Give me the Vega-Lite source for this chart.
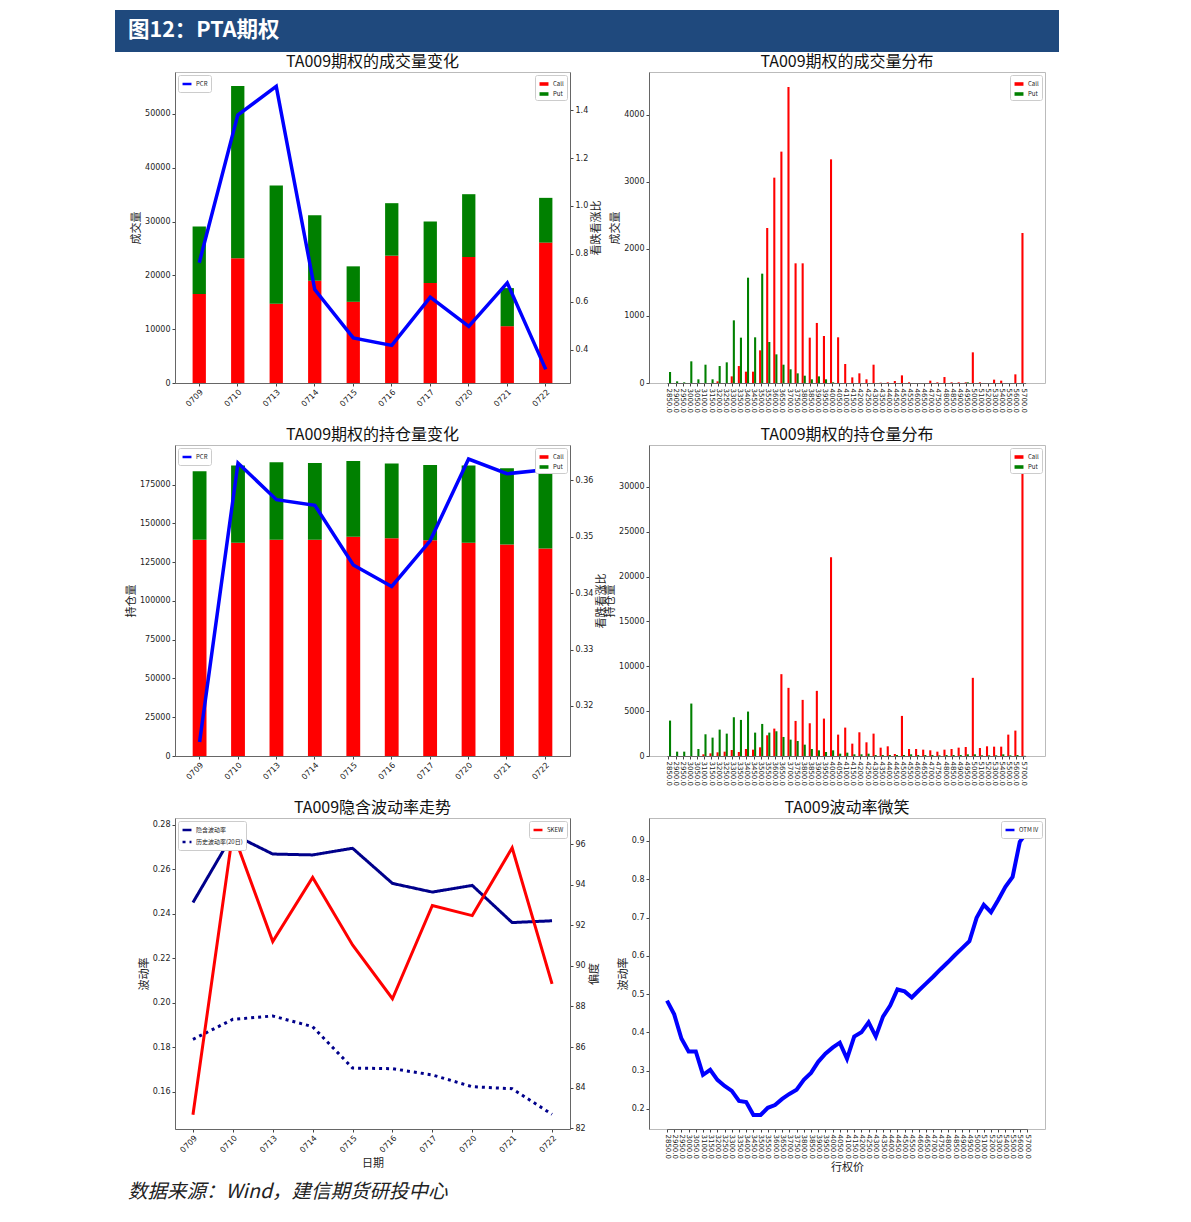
{
  "$schema": "https://vega.github.io/schema/vega-lite/v6.json",
  "padding": {"left": 115, "top": 10, "right": 5, "bottom": 5},
  "background": "white",
  "bounds": "flush",
  "columns": 4,
  "spacing": {"row": 20, "column": 0},
  "resolve": {
    "scale": {"color": "independent", "stroke": "independent", "strokeDash": "independent"},
    "legend": {"color": "independent", "stroke": "independent", "strokeDash": "independent"}
  },
  "datasets": {
    "vol_daily": [
      {"date": "0709", "Call": 16520, "Put": 12550, "PCR": 0.763},
      {"date": "0710", "Call": 23170, "Put": 32050, "PCR": 1.379},
      {"date": "0713", "Call": 14720, "Put": 21990, "PCR": 1.499},
      {"date": "0714", "Call": 19010, "Put": 12170, "PCR": 0.651},
      {"date": "0715", "Call": 15090, "Put": 6590, "PCR": 0.449},
      {"date": "0716", "Call": 23660, "Put": 9760, "PCR": 0.418},
      {"date": "0717", "Call": 18570, "Put": 11430, "PCR": 0.619},
      {"date": "0720", "Call": 23420, "Put": 11670, "PCR": 0.497},
      {"date": "0721", "Call": 10560, "Put": 7080, "PCR": 0.679},
      {"date": "0722", "Call": 26090, "Put": 8320, "PCR": 0.318}
    ],
    "oi_daily": [
      {"date": "0709", "Call": 139340, "Put": 44260, "PCR": 0.3136},
      {"date": "0710", "Call": 137410, "Put": 49810, "PCR": 0.3631},
      {"date": "0713", "Call": 139340, "Put": 50030, "PCR": 0.3566},
      {"date": "0714", "Call": 139340, "Put": 49600, "PCR": 0.3556},
      {"date": "0715", "Call": 141270, "Put": 48960, "PCR": 0.345},
      {"date": "0716", "Call": 140410, "Put": 48100, "PCR": 0.3412},
      {"date": "0717", "Call": 139130, "Put": 48520, "PCR": 0.3493},
      {"date": "0720", "Call": 137410, "Put": 49810, "PCR": 0.3638},
      {"date": "0721", "Call": 136330, "Put": 49170, "PCR": 0.3612},
      {"date": "0722", "Call": 133760, "Put": 48520, "PCR": 0.3619}
    ],
    "trend": [
      {"date": "0709", "隐含波动率": 0.245, "历史波动率(20日)": 0.1835, "SKEW": 82.66},
      {"date": "0710", "隐含波动率": 0.2757, "历史波动率(20日)": 0.1925, "SKEW": 96.59},
      {"date": "0713", "隐含波动率": 0.2668, "历史波动率(20日)": 0.194, "SKEW": 91.2},
      {"date": "0714", "隐含波动率": 0.2664, "历史波动率(20日)": 0.1892, "SKEW": 94.36},
      {"date": "0715", "隐含波动率": 0.2694, "历史波动率(20日)": 0.1706, "SKEW": 91.03},
      {"date": "0716", "隐含波动率": 0.2536, "历史波动率(20日)": 0.1703, "SKEW": 88.38},
      {"date": "0717", "隐含波动率": 0.2497, "历史波动率(20日)": 0.1675, "SKEW": 92.98},
      {"date": "0720", "隐含波动率": 0.2527, "历史波动率(20日)": 0.1622, "SKEW": 92.48},
      {"date": "0721", "隐含波动率": 0.236, "历史波动率(20日)": 0.1613, "SKEW": 95.82},
      {"date": "0722", "隐含波动率": 0.2368, "历史波动率(20日)": 0.1498, "SKEW": 89.11}
    ],
    "vol_strike": [
      {"strike": 2850, "Call": 0, "Put": 164}, {"strike": 2900, "Call": 0, "Put": 25},
      {"strike": 2950, "Call": 0, "Put": 10}, {"strike": 3000, "Call": 0, "Put": 323},
      {"strike": 3050, "Call": 0, "Put": 55}, {"strike": 3100, "Call": 0, "Put": 273},
      {"strike": 3150, "Call": 0, "Put": 55}, {"strike": 3200, "Call": 25, "Put": 253},
      {"strike": 3250, "Call": 0, "Put": 308}, {"strike": 3300, "Call": 99, "Put": 934},
      {"strike": 3350, "Call": 253, "Put": 676}, {"strike": 3400, "Call": 169, "Put": 1570},
      {"strike": 3450, "Call": 169, "Put": 681}, {"strike": 3500, "Call": 487, "Put": 1630},
      {"strike": 3550, "Call": 2311, "Put": 611}, {"strike": 3600, "Call": 3061, "Put": 427},
      {"strike": 3650, "Call": 3449, "Put": 273}, {"strike": 3700, "Call": 4413, "Put": 204},
      {"strike": 3750, "Call": 1784, "Put": 144}, {"strike": 3800, "Call": 1784, "Put": 109},
      {"strike": 3850, "Call": 676, "Put": 55}, {"strike": 3900, "Call": 895, "Put": 99},
      {"strike": 3950, "Call": 701, "Put": 55}, {"strike": 4000, "Call": 3334, "Put": 10},
      {"strike": 4050, "Call": 681, "Put": 0}, {"strike": 4100, "Call": 283, "Put": 0},
      {"strike": 4150, "Call": 84, "Put": 0}, {"strike": 4200, "Call": 144, "Put": 0},
      {"strike": 4250, "Call": 55, "Put": 0}, {"strike": 4300, "Call": 273, "Put": 0},
      {"strike": 4350, "Call": 5, "Put": 0}, {"strike": 4400, "Call": 10, "Put": 0},
      {"strike": 4450, "Call": 30, "Put": 0}, {"strike": 4500, "Call": 114, "Put": 0},
      {"strike": 4550, "Call": 10, "Put": 0}, {"strike": 4600, "Call": 0, "Put": 0},
      {"strike": 4650, "Call": 0, "Put": 0}, {"strike": 4700, "Call": 35, "Put": 0},
      {"strike": 4750, "Call": 10, "Put": 0}, {"strike": 4800, "Call": 89, "Put": 0},
      {"strike": 4850, "Call": 10, "Put": 0}, {"strike": 4900, "Call": 10, "Put": 0},
      {"strike": 4950, "Call": 10, "Put": 10}, {"strike": 5000, "Call": 457, "Put": 0},
      {"strike": 5100, "Call": 10, "Put": 0}, {"strike": 5200, "Call": 0, "Put": 0},
      {"strike": 5300, "Call": 50, "Put": 0}, {"strike": 5400, "Call": 35, "Put": 0},
      {"strike": 5500, "Call": 0, "Put": 0}, {"strike": 5600, "Call": 129, "Put": 0},
      {"strike": 5700, "Call": 2236, "Put": 0}
    ],
    "oi_strike": [
      {"strike": 2850, "Call": 0, "Put": 3946}, {"strike": 2900, "Call": 0, "Put": 484},
      {"strike": 2950, "Call": 0, "Put": 484}, {"strike": 3000, "Call": 0, "Put": 5845},
      {"strike": 3050, "Call": 0, "Put": 782}, {"strike": 3100, "Call": 186, "Put": 2420},
      {"strike": 3150, "Call": 298, "Put": 2048}, {"strike": 3200, "Call": 410, "Put": 2941},
      {"strike": 3250, "Call": 484, "Put": 2494}, {"strike": 3300, "Call": 670, "Put": 4319},
      {"strike": 3350, "Call": 447, "Put": 4021}, {"strike": 3400, "Call": 782, "Put": 4952},
      {"strike": 3450, "Call": 707, "Put": 2606}, {"strike": 3500, "Call": 968, "Put": 3574},
      {"strike": 3550, "Call": 2308, "Put": 2606}, {"strike": 3600, "Call": 3053, "Put": 2755},
      {"strike": 3650, "Call": 9121, "Put": 2122}, {"strike": 3700, "Call": 7595, "Put": 1824},
      {"strike": 3750, "Call": 3909, "Put": 1675}, {"strike": 3800, "Call": 6255, "Put": 1266},
      {"strike": 3850, "Call": 3649, "Put": 782}, {"strike": 3900, "Call": 7260, "Put": 633},
      {"strike": 3950, "Call": 4170, "Put": 447}, {"strike": 4000, "Call": 22152, "Put": 633},
      {"strike": 4050, "Call": 2383, "Put": 261}, {"strike": 4100, "Call": 3165, "Put": 372},
      {"strike": 4150, "Call": 1378, "Put": 186}, {"strike": 4200, "Call": 2643, "Put": 186},
      {"strike": 4250, "Call": 1526, "Put": 261}, {"strike": 4300, "Call": 2494, "Put": 112},
      {"strike": 4350, "Call": 931, "Put": 112}, {"strike": 4400, "Call": 1080, "Put": 112},
      {"strike": 4450, "Call": 223, "Put": 112}, {"strike": 4500, "Call": 4468, "Put": 112},
      {"strike": 4550, "Call": 782, "Put": 186}, {"strike": 4600, "Call": 782, "Put": 112},
      {"strike": 4650, "Call": 707, "Put": 112}, {"strike": 4700, "Call": 633, "Put": 112},
      {"strike": 4750, "Call": 484, "Put": 75}, {"strike": 4800, "Call": 707, "Put": 112},
      {"strike": 4850, "Call": 782, "Put": 112}, {"strike": 4900, "Call": 931, "Put": 112},
      {"strike": 4950, "Call": 1005, "Put": 186}, {"strike": 5000, "Call": 8712, "Put": 186},
      {"strike": 5100, "Call": 894, "Put": 75}, {"strike": 5200, "Call": 1080, "Put": 75},
      {"strike": 5300, "Call": 1042, "Put": 75}, {"strike": 5400, "Call": 1042, "Put": 186},
      {"strike": 5500, "Call": 2383, "Put": 75}, {"strike": 5600, "Call": 2830, "Put": 112},
      {"strike": 5700, "Call": 33000, "Put": 20}
    ],
    "smile": [
      {"strike": 2850, "OTM IV": 0.483}, {"strike": 2900, "OTM IV": 0.447},
      {"strike": 2950, "OTM IV": 0.384}, {"strike": 3000, "OTM IV": 0.35},
      {"strike": 3050, "OTM IV": 0.35}, {"strike": 3100, "OTM IV": 0.289},
      {"strike": 3150, "OTM IV": 0.302}, {"strike": 3200, "OTM IV": 0.276},
      {"strike": 3250, "OTM IV": 0.26}, {"strike": 3300, "OTM IV": 0.247},
      {"strike": 3350, "OTM IV": 0.221}, {"strike": 3400, "OTM IV": 0.218},
      {"strike": 3450, "OTM IV": 0.184}, {"strike": 3500, "OTM IV": 0.184},
      {"strike": 3550, "OTM IV": 0.203}, {"strike": 3600, "OTM IV": 0.21},
      {"strike": 3650, "OTM IV": 0.226}, {"strike": 3700, "OTM IV": 0.239},
      {"strike": 3750, "OTM IV": 0.25}, {"strike": 3800, "OTM IV": 0.276},
      {"strike": 3850, "OTM IV": 0.294}, {"strike": 3900, "OTM IV": 0.323},
      {"strike": 3950, "OTM IV": 0.344}, {"strike": 4000, "OTM IV": 0.36},
      {"strike": 4050, "OTM IV": 0.373}, {"strike": 4100, "OTM IV": 0.331},
      {"strike": 4150, "OTM IV": 0.389}, {"strike": 4200, "OTM IV": 0.4},
      {"strike": 4250, "OTM IV": 0.426}, {"strike": 4300, "OTM IV": 0.389},
      {"strike": 4350, "OTM IV": 0.441}, {"strike": 4400, "OTM IV": 0.47},
      {"strike": 4450, "OTM IV": 0.512}, {"strike": 4500, "OTM IV": 0.507},
      {"strike": 4550, "OTM IV": 0.491}, {"strike": 4600, "OTM IV": 0.51},
      {"strike": 4650, "OTM IV": 0.528}, {"strike": 4700, "OTM IV": 0.546},
      {"strike": 4750, "OTM IV": 0.565}, {"strike": 4800, "OTM IV": 0.583},
      {"strike": 4850, "OTM IV": 0.602}, {"strike": 4900, "OTM IV": 0.62},
      {"strike": 4950, "OTM IV": 0.638}, {"strike": 5000, "OTM IV": 0.699},
      {"strike": 5100, "OTM IV": 0.733}, {"strike": 5200, "OTM IV": 0.714},
      {"strike": 5300, "OTM IV": 0.746}, {"strike": 5400, "OTM IV": 0.78},
      {"strike": 5500, "OTM IV": 0.806}, {"strike": 5600, "OTM IV": 0.898},
      {"strike": 5700, "OTM IV": 0.923}
    ]
  },
  "concat": [
    {"width": 60, "height": 42, "view": {"fill": "#1f497d", "stroke": null}, "data": {"values": []}, "mark": "point"},
    {
      "width": 395,
      "height": 42,
      "view": {"fill": "#1f497d", "stroke": null},
      "data": {"values": [{"label": "图12：PTA期权"}]},
      "mark": {"type": "text", "align": "left", "baseline": "middle", "dx": -47, "fontSize": 21.5, "fontWeight": "bold", "color": "#ffffff", "font": "Noto Sans CJK SC"},
      "encoding": {
        "text": {"field": "label"},
        "x": {"datum": 0, "type": "quantitative", "scale": {"domain": [0, 1]}, "axis": null},
        "y": {"datum": 0.5, "type": "quantitative", "scale": {"domain": [0, 1]}, "axis": null}
      }
    },
    {"width": 79, "height": 42, "view": {"fill": "#1f497d", "stroke": null}, "data": {"values": []}, "mark": "point"},
    {"width": 410, "height": 42, "view": {"fill": "#1f497d", "stroke": null}, "data": {"values": []}, "mark": "point"},

    {"width": 60, "height": 353, "view": {"stroke": null}, "data": {"values": []}, "mark": "point"},
    {
      "width": 395,
      "height": 311,
      "view": {"stroke": "#bbbbbb"},
      "title": {"text": "TA009期权的成交量变化"},
      "data": {"name": "vol_daily"},
      "layer": [
        {
          "transform": [{"fold": ["Call", "Put"], "as": ["type", "value"]}],
          "mark": {"type": "bar"},
          "encoding": {
            "x": {"field": "date", "type": "ordinal", "scale": {"paddingInner": 0.6545, "paddingOuter": 0.457}, "axis": {"title": null, "labelAngle": -45}},
            "y": {"field": "value", "type": "quantitative", "scale": {"domain": [0, 57800], "nice": false}, "axis": {"title": "成交量", "values": [0, 10000, 20000, 30000, 40000, 50000], "format": "d"}},
            "color": {"field": "type", "type": "nominal", "scale": {"domain": ["Call", "Put"], "range": ["#ff0000", "#008000"]}, "legend": {"orient": "top-right", "title": null, "symbolType": "M-1,-0.4H1V0.4H-1Z"}},
            "order": {"field": "type", "type": "nominal", "sort": "ascending"}
          }
        },
        {
          "transform": [{"fold": ["PCR"], "as": ["series", "pcr"]}],
          "mark": {"type": "line", "strokeWidth": 3.5},
          "encoding": {
            "x": {"field": "date", "type": "ordinal"},
            "y": {"field": "pcr", "type": "quantitative", "scale": {"domain": [0.261, 1.559], "nice": false, "zero": false}, "axis": {"orient": "right", "title": "看跌看涨比", "titleAngle": 270, "titleBaseline": "top", "values": [0.4, 0.6, 0.8, 1.0, 1.2, 1.4], "format": ".1f"}},
            "stroke": {"field": "series", "type": "nominal", "scale": {"domain": ["PCR"], "range": ["#0000ff"]}, "legend": {"orient": "top-left", "title": null}}
          }
        }
      ],
      "resolve": {"scale": {"y": "independent"}}
    },
    {"width": 79, "height": 1, "view": {"stroke": null}, "data": {"values": []}, "mark": "point"},
    {
      "width": 396,
      "height": 311,
      "view": {"stroke": "#bbbbbb"},
      "title": {"text": "TA009期权的成交量分布"},
      "data": {"name": "vol_strike"},
      "transform": [{"fold": ["Call", "Put"], "as": ["type", "value"]}],
      "mark": {"type": "bar"},
      "encoding": {
        "x": {"field": "strike", "type": "ordinal", "scale": {"range": [17.9, 376.6], "paddingInner": 0.41, "paddingOuter": 0}, "axis": {"title": null, "labelAngle": 90, "labelFontSize": 7, "labelOverlap": false, "labelExpr": "datum.label + '.0'"}},
        "xOffset": {"field": "type", "type": "nominal", "scale": {"domain": ["Call", "Put"]}},
        "y": {"field": "value", "type": "quantitative", "stack": null, "scale": {"domain": [0, 4636], "nice": false}, "axis": {"title": "成交量", "values": [0, 1000, 2000, 3000, 4000], "format": "d"}},
        "color": {"field": "type", "type": "nominal", "scale": {"domain": ["Call", "Put"], "range": ["#ff0000", "#008000"]}, "legend": {"orient": "top-right", "title": null, "symbolType": "M-1,-0.4H1V0.4H-1Z"}}
      }
    },

    {"width": 60, "height": 353, "view": {"stroke": null}, "data": {"values": []}, "mark": "point"},
    {
      "width": 395,
      "height": 311,
      "view": {"stroke": "#bbbbbb"},
      "title": {"text": "TA009期权的持仓量变化"},
      "data": {"name": "oi_daily"},
      "layer": [
        {
          "transform": [{"fold": ["Call", "Put"], "as": ["type", "value"]}],
          "mark": {"type": "bar"},
          "encoding": {
            "x": {"field": "date", "type": "ordinal", "scale": {"paddingInner": 0.64, "paddingOuter": 0.46}, "axis": {"title": null, "labelAngle": -45}},
            "y": {"field": "value", "type": "quantitative", "scale": {"domain": [0, 200500], "nice": false}, "axis": {"title": "持仓量", "values": [0, 25000, 50000, 75000, 100000, 125000, 150000, 175000], "format": "d"}},
            "color": {"field": "type", "type": "nominal", "scale": {"domain": ["Call", "Put"], "range": ["#ff0000", "#008000"]}, "legend": {"orient": "top-right", "title": null, "symbolType": "M-1,-0.4H1V0.4H-1Z"}},
            "order": {"field": "type", "type": "nominal", "sort": "ascending"}
          }
        },
        {
          "transform": [{"fold": ["PCR"], "as": ["series", "pcr"]}],
          "mark": {"type": "line", "strokeWidth": 3.5},
          "encoding": {
            "x": {"field": "date", "type": "ordinal"},
            "y": {"field": "pcr", "type": "quantitative", "scale": {"domain": [0.3111, 0.3663], "nice": false, "zero": false}, "axis": {"orient": "right", "title": "看跌看涨比", "titleAngle": 270, "titleBaseline": "top", "values": [0.32, 0.33, 0.34, 0.35, 0.36], "format": ".2f"}},
            "stroke": {"field": "series", "type": "nominal", "scale": {"domain": ["PCR"], "range": ["#0000ff"]}, "legend": {"orient": "top-left", "title": null}}
          }
        }
      ],
      "resolve": {"scale": {"y": "independent"}}
    },
    {"width": 79, "height": 1, "view": {"stroke": null}, "data": {"values": []}, "mark": "point"},
    {
      "width": 396,
      "height": 311,
      "view": {"stroke": "#bbbbbb"},
      "title": {"text": "TA009期权的持仓量分布"},
      "data": {"name": "oi_strike"},
      "transform": [{"fold": ["Call", "Put"], "as": ["type", "value"]}],
      "mark": {"type": "bar", "clip": true},
      "encoding": {
        "x": {"field": "strike", "type": "ordinal", "scale": {"range": [17.9, 376.6], "paddingInner": 0.41, "paddingOuter": 0}, "axis": {"title": null, "labelAngle": 90, "labelFontSize": 7, "labelOverlap": false, "labelExpr": "datum.label + '.0'"}},
        "xOffset": {"field": "type", "type": "nominal", "scale": {"domain": ["Call", "Put"]}},
        "y": {"field": "value", "type": "quantitative", "stack": null, "scale": {"domain": [0, 34660], "nice": false}, "axis": {"title": "持仓量", "values": [0, 5000, 10000, 15000, 20000, 25000, 30000], "format": "d"}},
        "color": {"field": "type", "type": "nominal", "scale": {"domain": ["Call", "Put"], "range": ["#ff0000", "#008000"]}, "legend": {"orient": "top-right", "title": null, "symbolType": "M-1,-0.4H1V0.4H-1Z"}}
      }
    },

    {"width": 60, "height": 311, "view": {"stroke": null}, "data": {"values": []}, "mark": "point"},
    {
      "width": 395,
      "height": 311,
      "view": {"stroke": "#bbbbbb"},
      "title": {"text": "TA009隐含波动率走势"},
      "data": {"name": "trend"},
      "layer": [
        {
          "transform": [{"fold": ["隐含波动率", "历史波动率(20日)"], "as": ["series", "v"]}],
          "mark": {"type": "line", "strokeWidth": 3, "stroke": "#00008b"},
          "encoding": {
            "x": {"field": "date", "type": "ordinal", "scale": {"type": "point", "padding": 0.45}, "axis": {"title": "日期", "labelAngle": -45}},
            "y": {"field": "v", "type": "quantitative", "scale": {"domain": [0.1432, 0.283], "nice": false, "zero": false}, "axis": {"title": "波动率", "values": [0.16, 0.18, 0.2, 0.22, 0.24, 0.26, 0.28], "format": ".2f"}},
            "strokeDash": {"field": "series", "type": "nominal", "scale": {"domain": ["隐含波动率", "历史波动率(20日)"], "range": [[1, 0], [3, 4]]}, "legend": {"orient": "top-left", "title": null, "symbolStrokeColor": "#00008b"}}
          }
        },
        {
          "transform": [{"fold": ["SKEW"], "as": ["series2", "s"]}],
          "mark": {"type": "line", "strokeWidth": 3},
          "encoding": {
            "x": {"field": "date", "type": "ordinal"},
            "y": {"field": "s", "type": "quantitative", "scale": {"domain": [81.96, 97.29], "nice": false, "zero": false}, "axis": {"orient": "right", "title": "偏度", "titleAngle": 270, "titleBaseline": "top", "values": [82, 84, 86, 88, 90, 92, 94, 96]}},
            "stroke": {"field": "series2", "type": "nominal", "scale": {"domain": ["SKEW"], "range": ["#ff0000"]}, "legend": {"orient": "top-right", "title": null}}
          }
        }
      ],
      "resolve": {"scale": {"y": "independent"}}
    },
    {"width": 79, "height": 1, "view": {"stroke": null}, "data": {"values": []}, "mark": "point"},
    {
      "width": 396,
      "height": 311,
      "view": {"stroke": "#bbbbbb"},
      "title": {"text": "TA009波动率微笑"},
      "data": {"name": "smile"},
      "transform": [{"fold": ["OTM IV"], "as": ["series", "iv"]}],
      "mark": {"type": "line", "strokeWidth": 4},
      "encoding": {
        "x": {"field": "strike", "type": "ordinal", "scale": {"type": "point", "range": [18, 378], "padding": 0}, "axis": {"title": "行权价", "labelAngle": 90, "labelFontSize": 7, "labelOverlap": false, "labelExpr": "datum.label + '.0'"}},
        "y": {"field": "iv", "type": "quantitative", "scale": {"domain": [0.1475, 0.96], "nice": false, "zero": false}, "axis": {"title": "波动率", "values": [0.2, 0.3, 0.4, 0.5, 0.6, 0.7, 0.8, 0.9], "format": ".1f"}},
        "stroke": {"field": "series", "type": "nominal", "scale": {"domain": ["OTM IV"], "range": ["#0000ff"]}, "legend": {"orient": "top-right", "title": null}}
      }
    },

    {
      "width": 60,
      "height": 60,
      "view": {"stroke": null},
      "data": {"values": [{"label": "数据来源：Wind，建信期货研投中心"}]},
      "mark": {"type": "text", "align": "left", "baseline": "middle", "dx": 13, "fontSize": 19.5, "fontStyle": "italic", "color": "#222222", "font": "Noto Sans CJK SC"},
      "encoding": {
        "text": {"field": "label"},
        "x": {"datum": 0, "type": "quantitative", "scale": {"domain": [0, 1]}, "axis": null},
        "y": {"datum": 17, "type": "quantitative", "scale": {"domain": [0, 60]}, "axis": null}
      }
    },
    {"width": 1, "height": 1, "view": {"stroke": null}, "data": {"values": []}, "mark": "point"},
    {"width": 1, "height": 1, "view": {"stroke": null}, "data": {"values": []}, "mark": "point"},
    {"width": 1, "height": 1, "view": {"stroke": null}, "data": {"values": []}, "mark": "point"}
  ],
  "config": {
    "font": "DejaVu Sans",
    "view": {"stroke": null},
    "axis": {"grid": false, "labelFont": "DejaVu Sans", "labelFontSize": 8, "labelColor": "#222222", "tickColor": "#444444", "domainColor": "#666666", "tickSize": 3, "labelPadding": 2, "titleFont": "Noto Sans CJK SC", "titleFontWeight": "normal", "titleFontSize": 11, "titleColor": "#222222", "titlePadding": 3},
    "legend": {"labelFont": "Noto Sans CJK SC", "labelFontSize": 6, "labelColor": "#222222", "padding": 3, "rowPadding": 1, "strokeColor": "#cccccc", "fillColor": "#ffffff", "cornerRadius": 2, "offset": 3, "symbolSize": 80, "symbolStrokeWidth": 2.5, "labelOffset": 3},
    "title": {"font": "Noto Sans CJK SC", "fontSize": 16, "fontWeight": "normal", "color": "#111111", "offset": 2}
  }
}
